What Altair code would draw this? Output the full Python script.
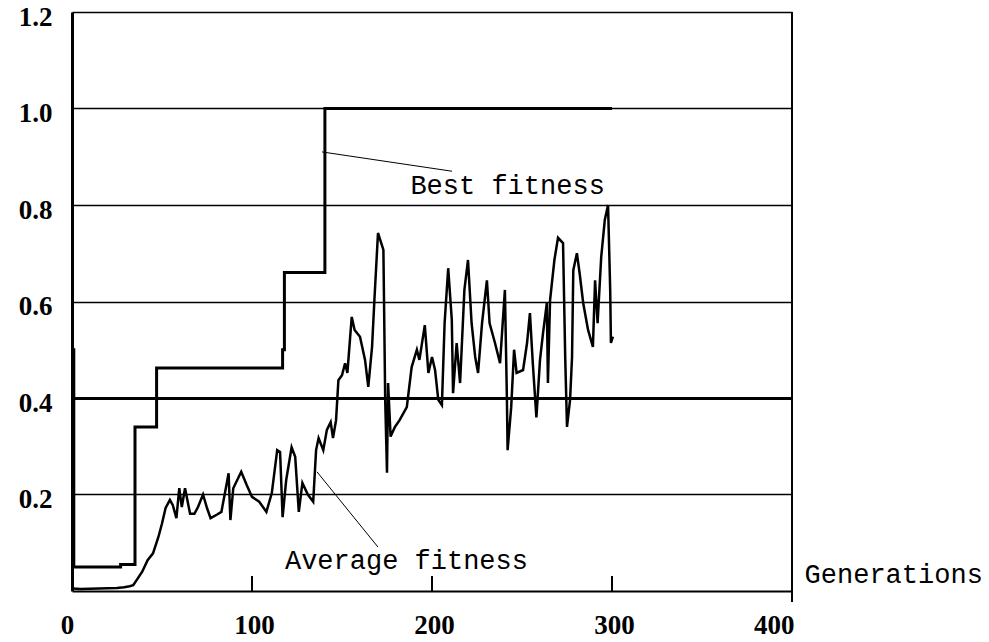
import altair as alt
import pandas as pd

# Best fitness (step function)
best_gen = [0, 1, 27, 35, 47, 117, 118, 140.5, 300]
best_val = [0.50, 0.05, 0.055, 0.34, 0.462, 0.50, 0.66, 1.0, 1.0]

# Average fitness
avg_gen = [0, 5, 15, 25, 29, 32, 34, 36, 39, 42, 45, 48, 50, 52, 54.4, 56, 58, 59.6, 61, 62.8,
           65.6, 68, 70, 72.8, 75, 77, 80.4, 83, 86, 87, 88, 89.6, 94, 97, 100, 104, 108, 111,
           114, 115.6, 117, 119, 122, 124, 126, 128, 131, 134, 135.6, 137, 139.6, 141.6, 143.7,
           145, 146.7, 148, 150, 151.7, 153, 155.4, 157, 160, 162.8, 164.6, 166.7, 168, 170,
           173, 174, 175, 175.6, 177, 179.4, 182, 186, 188.7, 191.6, 193, 196, 198, 200, 201.7,
           203.5, 205.5, 207, 209, 211, 211.7, 213.7, 215.6, 218, 220, 222, 224, 225.6, 227.8,
           230.5, 232, 235, 237.8, 240.5, 241.6, 242, 244, 245.6, 247, 250.6, 252.8, 254.4, 256,
           258, 260, 261.7, 263.8, 264.4, 265.6, 268, 270, 272.8, 274, 275, 276.7, 277.8, 278.5,
           280.5, 282, 284, 286.7, 289.4, 290.6, 292, 294, 296, 297.8, 299, 299.4, 300.5]
avg_val = [0.005, 0.004, 0.005, 0.006, 0.008, 0.01, 0.012, 0.023, 0.04, 0.064, 0.078, 0.112, 0.14,
           0.172, 0.189, 0.178, 0.151, 0.213, 0.174, 0.213, 0.16, 0.16, 0.174, 0.2, 0.172, 0.151,
           0.158, 0.164, 0.224, 0.244, 0.147, 0.213, 0.247, 0.22, 0.195, 0.185, 0.164, 0.203,
           0.292, 0.288, 0.153, 0.23, 0.298, 0.278, 0.164, 0.224, 0.2, 0.185, 0.292, 0.317, 0.292,
           0.334, 0.35, 0.317, 0.354, 0.437, 0.447, 0.472, 0.452, 0.568, 0.541, 0.527, 0.479,
           0.423, 0.506, 0.603, 0.742, 0.707, 0.396, 0.245, 0.431, 0.32, 0.34, 0.354, 0.381, 0.464,
           0.5, 0.479, 0.551, 0.452, 0.485, 0.458, 0.396, 0.385, 0.555, 0.669, 0.562, 0.41, 0.514,
           0.431, 0.624, 0.686, 0.555, 0.485, 0.452, 0.555, 0.644, 0.555, 0.514, 0.472, 0.624,
           0.402, 0.292, 0.381, 0.5, 0.452, 0.458, 0.514, 0.576, 0.472, 0.36, 0.479, 0.535, 0.597,
           0.431, 0.603, 0.686, 0.732, 0.721, 0.485, 0.34, 0.396, 0.485, 0.665, 0.7, 0.659, 0.597,
           0.541, 0.506, 0.644, 0.555, 0.692, 0.769, 0.8, 0.624, 0.514, 0.527]

x_ticks = [0, 100, 200, 300, 400]
y_ticks = [0.2, 0.4, 0.6, 0.8, 1.0, 1.2]
inner_ticks = [100, 200, 300]

label_text = ["Best fitness", "Average fitness", "Generations"]
label_x = [188, 118.3, 407]
label_y = [0.839, 0.062, 0.033]

ann_id = ["best", "best", "avg", "avg"]
ann_x = [138.9, 211.1, 136.1, 170]
ann_y = [0.910, 0.870, 0.247, 0.091]

best_df = pd.DataFrame({"gen": best_gen, "val": best_val})
avg_df = pd.DataFrame({"gen": avg_gen, "val": avg_val})
lab_df = pd.DataFrame({"text": label_text, "gen": label_x, "val": label_y})
ann_df = pd.DataFrame({"id": ann_id, "gen": ann_x, "val": ann_y})
tick_df = pd.DataFrame({"gen": inner_ticks})

xs = alt.Scale(domain=[0, 400], nice=False, zero=False)
ys = alt.Scale(domain=[0, 1.2], nice=False, zero=True)

X = alt.X("gen:Q", scale=xs, axis=alt.Axis(
    values=x_ticks, grid=False, ticks=False, title=None, domainColor="black", domainWidth=2,
    labelFont="Liberation Serif", labelFontWeight="bold", labelFontSize=27, labelColor="black",
    labelPadding=21,
    labelAlign={"condition": {"test": "datum.value === 400", "value": "right"}, "value": "center"},
    labelOffset={"condition": {"test": "datum.value === 0", "value": -5}, "value": 2},
))
Y = alt.Y("val:Q", scale=ys, axis=alt.Axis(
    values=y_ticks, grid=True, ticks=False, title=None, domainColor="black", domainWidth=3,
    gridColor="black",
    gridWidth={"condition": {"test": "datum.value === 0.4", "value": 3}, "value": 1.6},
    gridOpacity=1,
    labelFont="Liberation Serif", labelFontWeight="bold", labelFontSize=27, labelColor="black",
    labelPadding=20, format=".1f", labelOffset=5,
))

base_axes = alt.Chart(best_df).mark_line(strokeWidth=3, color="black", interpolate="step-after").encode(x=X, y=Y)

avg_line = alt.Chart(avg_df).mark_line(strokeWidth=2.5, color="black").encode(
    x=alt.X("gen:Q", scale=xs), y=alt.Y("val:Q", scale=ys))

ticks = alt.Chart(tick_df).mark_rule(color="black", strokeWidth=2).encode(
    x=alt.X("gen:Q", scale=xs), y=alt.datum(0, scale=ys), y2=alt.datum(0.031))

right_border = alt.Chart(tick_df).mark_rule(color="black", strokeWidth=1.5).encode(
    x=alt.datum(400, scale=xs), y=alt.value(0), y2=alt.value(590))

ann = alt.Chart(ann_df).mark_line(color="black", strokeWidth=1).encode(
    x=alt.X("gen:Q", scale=xs), y=alt.Y("val:Q", scale=ys), detail="id:N")

labels = alt.Chart(lab_df).mark_text(
    font="Liberation Mono", fontSize=27, color="black", align="left", baseline="middle"
).encode(x=alt.X("gen:Q", scale=xs), y=alt.Y("val:Q", scale=ys), text="text:N")

chart = alt.layer(base_axes, avg_line, ticks, right_border, ann, labels).properties(
    width=720, height=579,
    autosize=alt.AutoSizeParams(type="none"),
    padding={"left": 72, "top": 12, "right": 197, "bottom": 51},
    background="white",
).configure_view(stroke=None)

chart.save("out.html", embed_options={"renderer": "svg", "actions": False})
